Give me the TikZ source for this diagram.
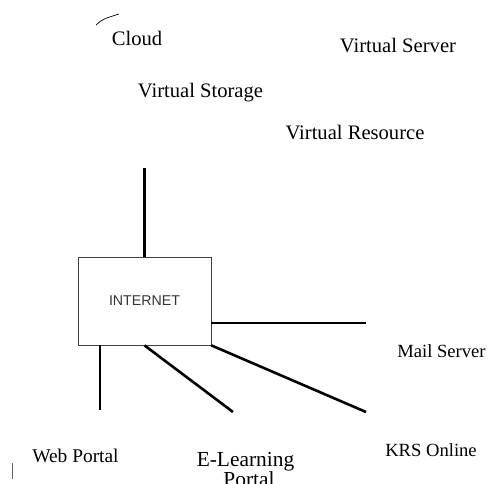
\documentclass[tikz,border=0pt]{standalone}
\usepackage{fontspec}
\setmainfont{Liberation Serif}
\newfontfamily\arialfont{Liberation Sans}
\begin{document}
\begin{tikzpicture}[x=1pt,y=-1pt,
  label20/.style={font=\fontsize{20.6}{22}\selectfont, inner sep=0pt, anchor=base},
  label18/.style={font=\fontsize{18.6}{20}\selectfont, inner sep=0pt, anchor=base},
  hub/.style={draw=black!75, line width=0.8pt, minimum width=133pt, minimum height=88pt,
    inner sep=0pt, font=\arialfont\fontsize{14.2}{16}\selectfont, text=black!80},
  link/.style={line width=2.6pt, black}]
\useasboundingbox (0,0) rectangle (488,483);

% cloud-side labels
\node[label20] (cloud) at (137,45) {Cloud};
\node[label20] (vstorage) at (200.5,97) {Virtual Storage};
\node[label20] (vserver) at (398,52) {Virtual Server};
\node[label20] (vresource) at (355,139) {Virtual Resource};
\draw[line width=0.7pt] (96,25) .. controls (103,19) .. (119,14);

% central hub
\node[hub] (inet) at (144.5,301) {INTERNET};

% service labels
\node[label18] (mail) at (441.5,357) {Mail Server};
\node[label18, font=\fontsize{19.4}{21}\selectfont] (web) at (75.5,462) {Web Portal};
\node[label18, font=\fontsize{21.4}{23}\selectfont] (elearn) at (245.5,466) {E-Learning};
\node[label18, font=\fontsize{21.4}{23}\selectfont] (elearn2) at (249,486) {Portal};
\node[label18] (krs) at (431,456) {KRS Online};
\draw[black!60, line width=0.6pt] (12,463) -- (12,479);

% link ends
\coordinate (topend) at (144.5,168);
\coordinate (mailend) at (366,323);
\coordinate (webend) at (100,410);
\coordinate (elend) at (233,412);
\coordinate (krsend) at (366,412);

% links
\draw[link] (inet.north) -- (topend);
\draw[link] (inet.east |- mailend) -- (mailend);
\draw[link] (inet.south -| webend) -- (webend);
\draw[link] (inet.south) -- (elend);
\draw[link] (inet.south east) -- (krsend);
\end{tikzpicture}
\end{document}
